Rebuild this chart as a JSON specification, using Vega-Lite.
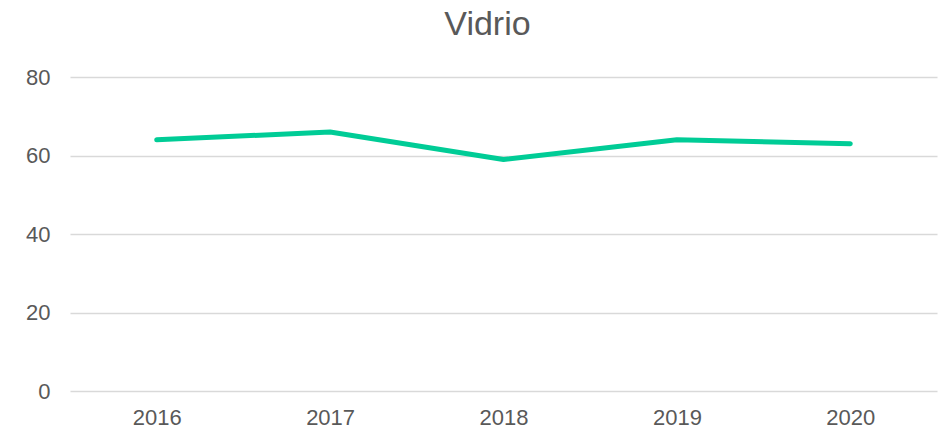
{
  "$schema": "https://vega.github.io/schema/vega-lite/v6.json",
  "autosize": "none",
  "width": 867,
  "height": 314,
  "padding": {"left": 70, "top": 77, "right": 3, "bottom": 44},
  "background": "white",
  "title": {
    "text": "Vidrio",
    "font": "Liberation Sans",
    "fontSize": 34,
    "fontWeight": "normal",
    "color": "#595959",
    "anchor": "middle",
    "offset": 24,
    "dx": -16
  },
  "data": {
    "values": [
      {"year": "2016", "value": 64},
      {"year": "2017", "value": 66},
      {"year": "2018", "value": 59},
      {"year": "2019", "value": 64},
      {"year": "2020", "value": 63}
    ]
  },
  "mark": {"type": "line", "color": "#00CC96", "strokeWidth": 5, "strokeCap": "round", "strokeJoin": "round"},
  "encoding": {
    "x": {
      "field": "year",
      "type": "ordinal",
      "scale": {"type": "point", "padding": 0.5},
      "axis": {
        "title": null,
        "labelAngle": 0,
        "domain": false,
        "ticks": false,
        "grid": false,
        "labelFont": "Liberation Sans",
        "labelFontSize": 22,
        "labelColor": "#595959",
        "labelPadding": 16
      }
    },
    "y": {
      "field": "value",
      "type": "quantitative",
      "scale": {"domain": [0, 80], "nice": false},
      "axis": {
        "title": null,
        "values": [0, 20, 40, 60, 80],
        "domain": false,
        "ticks": false,
        "gridColor": "#d9d9d9",
        "gridWidth": 1.5,
        "labelFont": "Liberation Sans",
        "labelFontSize": 22,
        "labelColor": "#595959",
        "labelPadding": 20
      }
    }
  },
  "config": {"view": {"stroke": null}}
}
